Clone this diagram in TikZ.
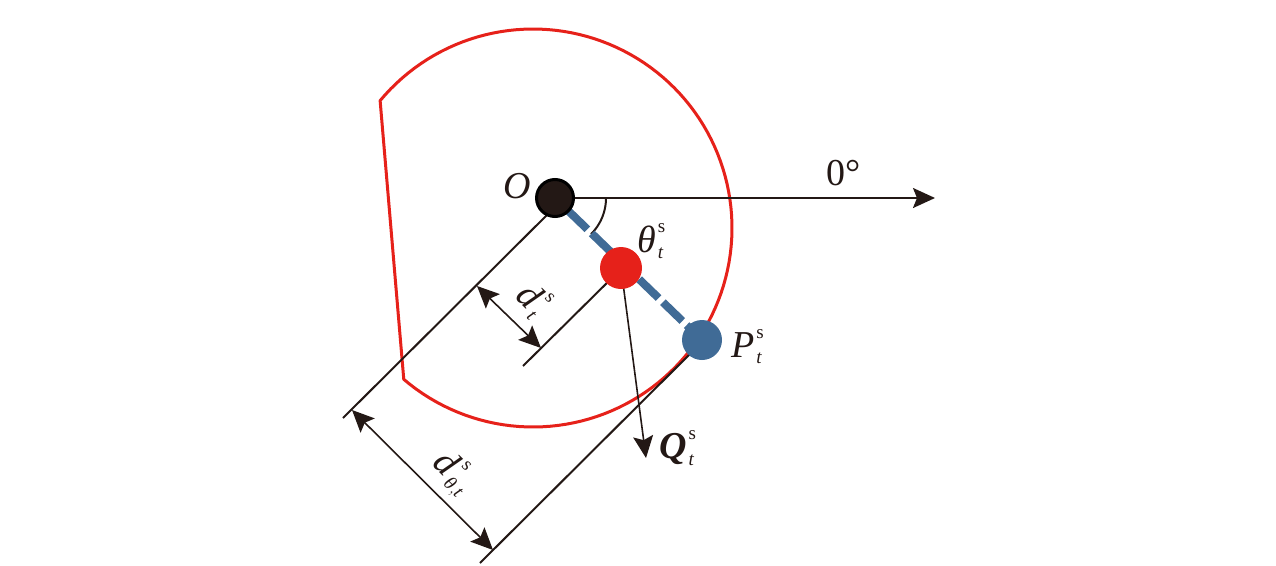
\documentclass[tikz,border=0pt]{standalone}
\usepackage{amsmath}
\usepackage{fontspec}
\setmainfont{Liberation Serif}
\usetikzlibrary{arrows.meta}
\DeclareMathSizes{38}{38}{19}{14}
\definecolor{rd}{HTML}{E6211A}
\definecolor{bl}{HTML}{406B96}
\definecolor{bk}{HTML}{231815}
\begin{document}
\begin{tikzpicture}[x=1pt,y=-1pt,
  lbl/.style={font=\fontsize{38}{44}\selectfont, inner sep=0pt, text=bk},
  dimline/.style={draw=bk, line width=2pt},
  dimarrow/.style={draw=bk, line width=1.6pt, {Stealth[length=22pt,width=20pt,inset=4pt]}-{Stealth[length=22pt,width=20pt,inset=4pt]}},
  onearrow/.style={draw=bk, -{Stealth[length=22pt,width=20pt,inset=4pt]}},
  dot/.style={circle, inner sep=0pt}
]
\useasboundingbox (0,0) rectangle (1276,565);
% red region outline
\draw[rd, line width=3pt, line join=round]
  plot[domain=-140.2:130.5, samples=120] ({533+199*cos(\x)},{228+199*sin(\x)}) -- cycle;
% named points
\coordinate (O) at (555,198);
\coordinate (R) at (621,268);
\coordinate (P) at (702,340);
\coordinate (Aa) at (557,205); \coordinate (Ab) at (343,418);
\coordinate (Ba) at (620,270); \coordinate (Bb) at (523,366);
\coordinate (Ca) at (701,343); \coordinate (Cb) at (480,563);
\coordinate (D1a) at (477,286); \coordinate (D1b) at (541,348);
\coordinate (D2a) at (352,410); \coordinate (D2b) at (493,550);
\coordinate (Qend) at (646,458);
\coordinate (Xend) at (935,198);
% dimension lines
\draw[dimline] (Aa) -- (Ab);
\draw[dimline] (Ba) -- (Bb);
\draw[dimline] (Ca) -- (Cb);
\draw[dimarrow] (D1a) -- (D1b);
\draw[dimarrow] (D2a) -- (D2b);
% zero-degree axis
\draw[onearrow, line width=2pt] (O) -- (Xend);
% angle arc
\draw[bk, line width=2pt] plot[domain=0:45, samples=30] ({555+51*cos(\x)},{198+51*sin(\x)});
% dashed line O-P
\draw[bl, line width=8pt, dash pattern=on 27pt off 6pt, dash phase=15pt] (O) -- (P);
% Q arrow
\draw[onearrow, line width=1.6pt] (R) -- (Qend);
% dots
\node[dot, fill=bk, draw=black, line width=3pt, minimum size=37pt] (Odot) at (O) {};
\node[dot, fill=rd, minimum size=42pt] (Rdot) at (R) {};
\node[dot, fill=bl, minimum size=40pt] (Pdot) at (P) {};
% labels
\node[lbl, anchor=base west] (Olbl) at (503,198) {\textit{O}};
\node[lbl, anchor=base west] (zlbl) at (826,185) {0°};
\node[lbl, anchor=base west] (thlbl) at (637,252) {${\textit{θ}\kern2pt}^{\textrm{s}}_{\textit{t}}$};
\node[lbl, anchor=base west] (Plbl) at (731,357) {${\textit{P}\kern2pt}^{\textrm{s}}_{\textit{t}}$};
\node[lbl, anchor=base west] (Qlbl) at (659,458) {${\textbf{\textit{Q}}\kern2pt}^{\textrm{s}}_{\textit{t}}$};
\node[lbl, rotate=-45] (d1lbl) at (533,300) {${\textit{d}\kern3pt}^{\textrm{s}}_{\textit{t}}$};
\node[lbl, rotate=-45] (d2lbl) at (453,473) {${\textit{d}\kern3pt}^{\textrm{s}}_{\textit{θ},\textit{t}}$};
\end{tikzpicture}
\end{document}
